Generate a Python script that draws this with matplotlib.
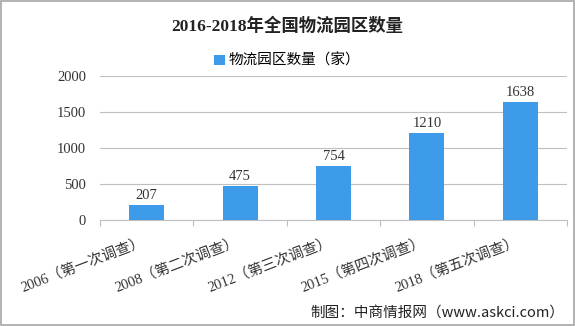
import numpy as np
import matplotlib.pyplot as plt

# data
categories = ['2006（第一次调查）', '2008（第二次调查）', '2012（第三次调查）',
              '2015（第四次调查）', '2018（第五次调查）']
counts = [207, 475, 754, 1210, 1638]
yticks = [0, 500, 1000, 1500, 2000]

cjk = ['Liberation Serif', 'Noto Sans CJK SC']
plt.rcParams['font.family'] = cjk

fig = plt.figure(figsize=(5.75, 3.26), dpi=100)
ax = fig.add_axes([0.174, 0.325, 0.812, 0.442])

x = np.arange(len(categories))
bars = ax.bar(x, counts, width=0.375, color='#3D9BE9', label='物流园区数量（家）', zorder=3)
for xi, v in zip(x, counts):
    ax.text(xi, v + 40, str(v), ha='center', va='bottom', fontsize=10.5, color='#333333')

ax.set_xlim(-0.5, len(categories) - 0.5)
ax.set_ylim(0, 2000)
ax.set_yticks(yticks)
ax.set_yticklabels([str(t) for t in yticks], fontsize=10.5, color='#333333')
ax.yaxis.grid(True, color='#BFBFBF', linewidth=0.8, zorder=0)
ax.tick_params(axis='y', length=0, pad=10)

# category boundaries as ticks, labels drawn rotated below
ax.set_xticks(np.arange(len(categories) + 1) - 0.5, minor=False)
ax.set_xticklabels([])
ax.tick_params(axis='x', length=4, color='#BFBFBF')
for xi, lab in zip(x, categories):
    ax.text(xi - 0.05, -200, lab, rotation=21, ha='right', va='top',
            fontsize=10.5, color='#333333', rotation_mode='anchor')

for s in ['top', 'right', 'left']:
    ax.spines[s].set_visible(False)
ax.spines['bottom'].set_color('#BFBFBF')

fig.text(0.5, 0.92, '2016-2018年全国物流园区数量', ha='center', va='center',
         fontsize=12.5, fontweight='bold', color='#222222')
fig.legend(loc='center', bbox_to_anchor=(0.5, 0.813), frameon=False, fontsize=10.5,
           handlelength=0.7, handleheight=0.7, handletextpad=0.3)
fig.text(0.982, 0.02, '制图：中商情报网（www.askci.com）', ha='right', va='bottom',
         fontsize=10.5, color='#222222', family=['Noto Sans CJK SC', 'DejaVu Sans'])

fig.patches.append(plt.Rectangle((0.002, 0.003), 0.996, 0.994, transform=fig.transFigure,
                                 fill=False, edgecolor='#A6A6A6', linewidth=1.2))

fig.savefig('out.png', dpi=100)
